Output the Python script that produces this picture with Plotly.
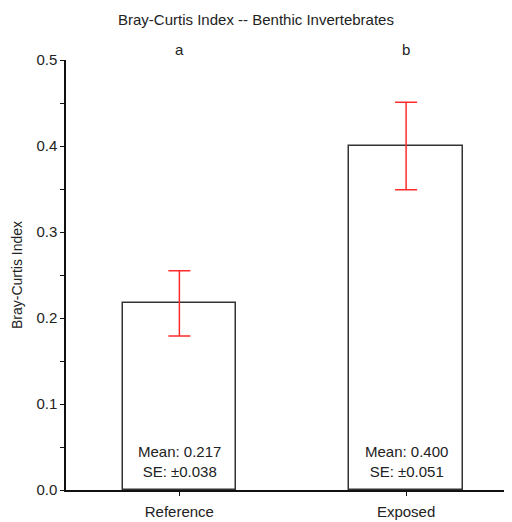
import plotly.graph_objects as go

categories = ["Reference", "Exposed"]
means = [0.217, 0.400]
se = [0.038, 0.051]
letters = ["a", "b"]
y_ticks = [0.0, 0.1, 0.2, 0.3, 0.4, 0.5]
y_tick_labels = ["0.0", "0.1", "0.2", "0.3", "0.4", "0.5"]

FONT = "Liberation Sans, Arial, sans-serif"
xpos = list(range(len(categories)))

W, H = 504, 514  # page body has an 8px margin

fig = go.Figure()
fig.add_trace(go.Bar(
    x=xpos, y=means, width=0.5,
    marker=dict(color="white", line=dict(color="#333333", width=1.5)),
    error_y=dict(type="data", array=se, visible=True, color="#ff2a2a",
                 thickness=1.5, width=11),
    showlegend=False, hoverinfo="skip",
))

for i, (m, s) in enumerate(zip(means, se)):
    fig.add_annotation(x=i, y=0, xref="x", yref="y", yanchor="bottom",
                       text=f"Mean: {m:.3f}<br>SE: ±{s:.3f}", showarrow=False,
                       yshift=8, font=dict(family=FONT, size=15, color="#222"),
                       align="center")
    fig.add_annotation(x=i, y=1, xref="x", yref="paper", yanchor="bottom",
                       text=letters[i], showarrow=False, yshift=0,
                       font=dict(family=FONT, size=15, color="#222"))

fig.update_layout(
    width=W, height=H,
    margin=dict(l=58, r=0, t=52, b=32, autoexpand=False),
    plot_bgcolor="white", paper_bgcolor="white",
    title=dict(text="Bray-Curtis Index -- Benthic Invertebrates", x=(256 - 8) / W,
               xanchor="center", y=1 - 12 / H, yanchor="middle",
               font=dict(family=FONT, size=15, color="#222"), automargin=False),
    font=dict(family=FONT, size=15, color="#222"),
    bargap=0,
)
fig.update_xaxes(range=[-0.5, 1.467], tickvals=xpos, ticktext=categories,
                 showgrid=False, zeroline=False, showline=True, automargin=False,
                 linecolor="#111", linewidth=1.5, ticks="outside", ticklen=4,
                 ticklabelstandoff=3,
                 tickcolor="#111", tickfont=dict(family=FONT, size=15, color="#222"))
fig.update_yaxes(range=[0, 0.5], tickvals=y_ticks, ticktext=y_tick_labels,
                 showgrid=False, zeroline=False, showline=True, automargin=False,
                 linecolor="#111", linewidth=1.5, ticks="outside", ticklen=4,
                 tickcolor="#111", tickfont=dict(family=FONT, size=15, color="#222"),
                 minor=dict(dtick=0.05, tick0=0, ticks="outside", ticklen=4, tickcolor="#111"),
                 title=dict(text="Bray-Curtis Index", standoff=10,
                            font=dict(family=FONT, size=14, color="#222")))

fig.write_html("out.html")
